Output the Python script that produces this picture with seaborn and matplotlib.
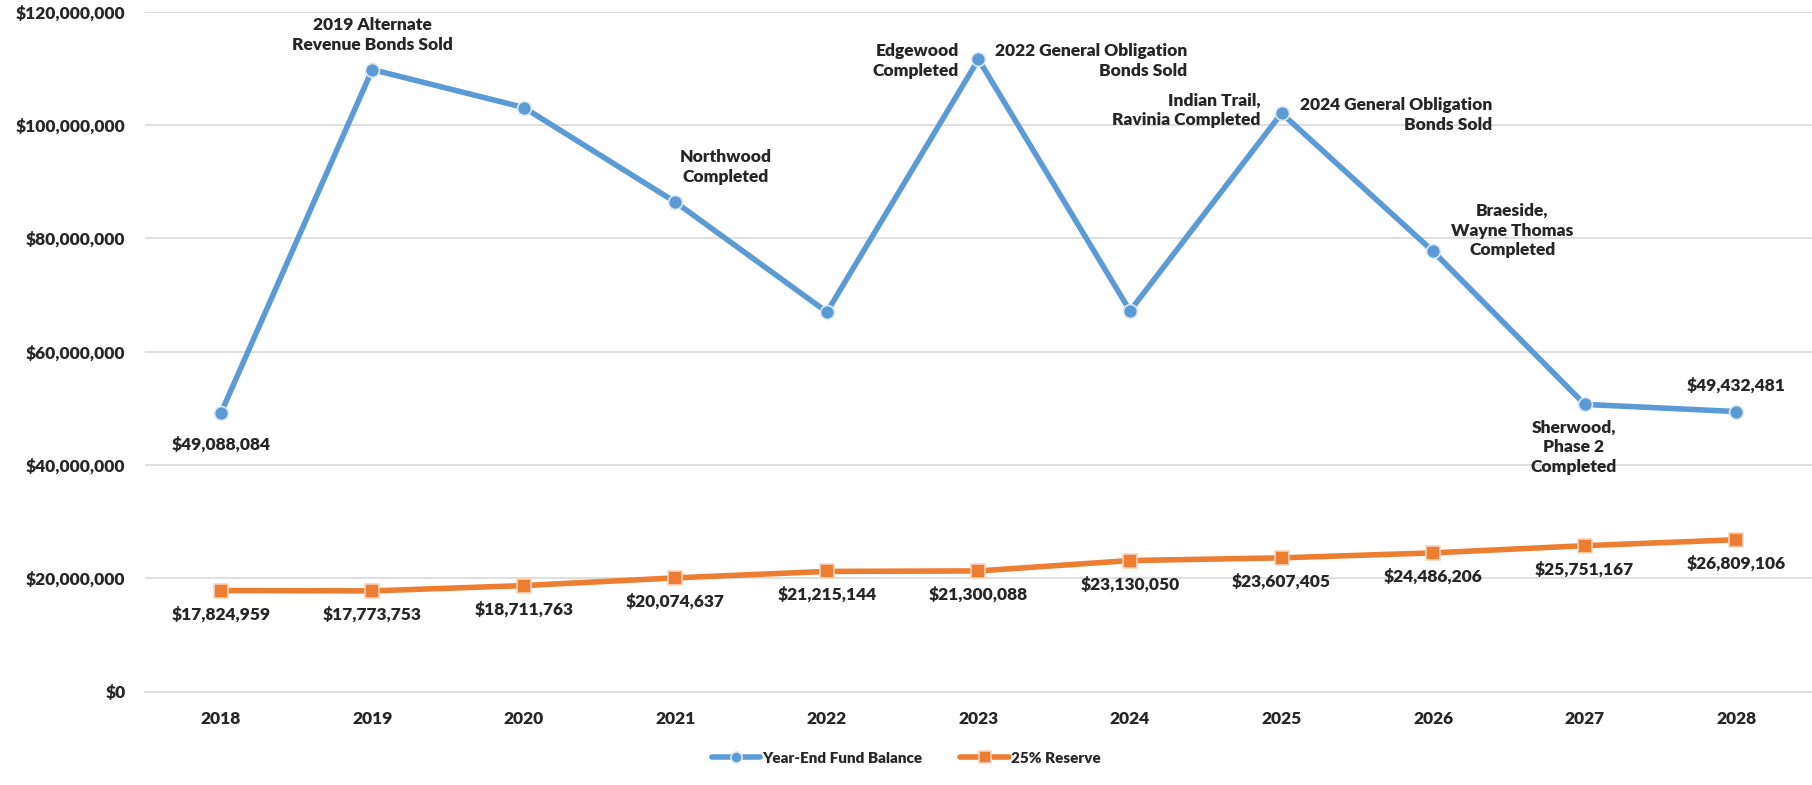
import matplotlib
matplotlib.use("Agg")
import matplotlib.pyplot as plt
import matplotlib.ticker as mticker
import seaborn as sns
import pandas as pd
import numpy as np

years = ["2018", "2019", "2020", "2021", "2022", "2023", "2024", "2025", "2026", "2027", "2028"]
fund_balance = [49088084, 109800000, 103100000, 86400000, 67000000, 111600000,
                67200000, 102100000, 77700000, 50700000, 49432481]
reserve = [17824959, 17773753, 18711763, 20074637, 21215144, 21300088,
           23130050, 23607405, 24486206, 25751167, 26809106]

# (year index, text, x offset pt, y offset pt, ha)
events = [
    (1, "2019 Alternate\nRevenue Bonds Sold", 0, 25, "center"),
    (3, "Northwood\nCompleted", 36, 25, "center"),
    (5, "Edgewood\nCompleted", -14, -1, "right"),
    (5, "2022 General Obligation\nBonds Sold", 12, -1, "left"),
    (7, "Indian Trail,\nRavinia Completed", -15, 2, "right"),
    (7, "2024 General Obligation\nBonds Sold", 13, -1, "left"),
    (8, "Braeside,\nWayne Thomas\nCompleted", 57, 15, "center"),
    (9, "Sherwood,\nPhase 2\nCompleted", -8, -31, "center"),
]

BLUE = "#5B9BD5"
ORANGE = "#ED7D31"
W = "heavy"

sns.set_style("white")
plt.rcParams['font.family'] = ['Lato', 'DejaVu Sans']
plt.rcParams['font.weight'] = W

fig = plt.figure(figsize=(18.12, 7.85), dpi=100)
ax = fig.add_axes([0.080, 0.119, 0.92, 0.866])

x = np.arange(len(years))
sns.lineplot(x=x, y=fund_balance, ax=ax, color=BLUE, lw=4, marker="o", markersize=10,
             markeredgecolor="#DCE9F5", markeredgewidth=1.2, label="Year-End Fund Balance")
sns.lineplot(x=x, y=reserve, ax=ax, color=ORANGE, lw=4, marker="s", markersize=10,
             markeredgecolor="#F8D3BA", markeredgewidth=1.2, label="25% Reserve")

fs = 12.5
for i, txt, dx, dy, ha in events:
    ax.annotate(txt, (x[i], fund_balance[i]), xytext=(dx, dy), textcoords="offset points",
                ha=ha, va="center", multialignment="right" if ha != "center" else "center",
                fontsize=fs, fontweight=W, linespacing=1.3)

ax.annotate(f"${fund_balance[0]:,}", (x[0], fund_balance[0]), xytext=(0, -22),
            textcoords="offset points", ha="center", va="center", fontsize=fs, fontweight=W)
ax.annotate(f"${fund_balance[-1]:,}", (x[-1], fund_balance[-1]), xytext=(0, 19),
            textcoords="offset points", ha="center", va="center", fontsize=fs, fontweight=W)
for i, v in enumerate(reserve):
    ax.annotate(f"${v:,}", (x[i], v), xytext=(0, -17), textcoords="offset points",
                ha="center", va="center", fontsize=fs, fontweight=W)

ax.set_xlim(-0.5, len(years) - 0.5)
ax.set_ylim(0, 120000000)
ax.set_xticks(x)
ax.set_xticklabels(years, fontsize=fs, fontweight=W)
ax.yaxis.set_major_locator(mticker.MultipleLocator(20000000))
ax.yaxis.set_major_formatter(mticker.FuncFormatter(lambda v, p: f"${v:,.0f}"))
for lab in ax.get_yticklabels():
    lab.set_fontweight(W)
    lab.set_fontsize(fs)
ax.tick_params(axis="x", length=0, pad=14)
ax.tick_params(axis="y", length=0, pad=14)
ax.grid(axis="y", color="#D9D9D9", lw=1.2)
for s in ["top", "right", "left"]:
    ax.spines[s].set_visible(False)
ax.spines["bottom"].set_color("#D9D9D9")
ax.spines["bottom"].set_linewidth(1.2)

ax.legend_.remove()
handles, labels = ax.get_legend_handles_labels()
fig.legend(handles, labels, loc="center", bbox_to_anchor=(0.5, 0.034), ncol=2,
           frameon=False, prop={"weight": W, "size": 11}, handlelength=3.2,
           columnspacing=2.5, handletextpad=0.1, markerscale=0.8)

fig.savefig("out.png", dpi=100)
